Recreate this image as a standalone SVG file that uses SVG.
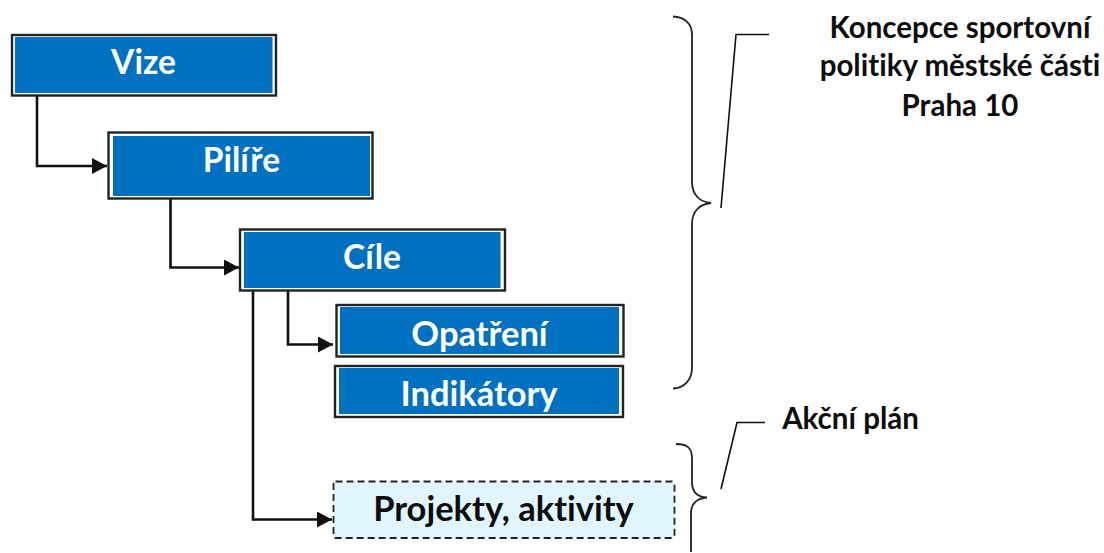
<svg xmlns="http://www.w3.org/2000/svg" width="1104" height="553" viewBox="0 0 1104 553">
<style>
.o{fill:#fff;stroke:#222;stroke-width:2.400}
.i{fill:#0070c0}
text{font-family:"Lato","Liberation Sans",sans-serif;font-weight:700;text-anchor:middle;font-variant-ligatures:none}
.w{fill:#fff;font-size:33.500px}
.w2{fill:#fff;font-size:34.500px}
.k{fill:#0d0d0d}
.c{fill:none;stroke:#111;stroke-width:2.600}
.b{fill:none;stroke:#222;stroke-width:1.800}
</style>
<defs><marker id="a" markerUnits="userSpaceOnUse" markerWidth="16" markerHeight="16" refX="15" refY="8" orient="auto"><path d="M0 0L15 8L0 16Z" fill="#111"/></marker></defs>
<rect width="1104" height="553" fill="#fff"/>
<g id="connectors">
<path class="c" marker-end="url(#a)" d="M37 96V166H107"/>
<path class="c" marker-end="url(#a)" d="M170.500 199V267.500H239"/>
<path class="c" marker-end="url(#a)" d="M288 291V344.500H333"/>
<path class="c" marker-end="url(#a)" d="M253 291V519.500H332"/>
</g>
<g id="vize"><rect class="o" x="12" y="35" width="264" height="60.500"/><rect class="i" x="15" y="37" width="257.500" height="56"/><text class="w" x="143.500" y="73.500">Vize</text></g>
<g id="pilire"><rect class="o" x="108.500" y="132.500" width="264" height="66"/><rect class="i" x="113" y="136" width="257" height="60"/><text class="w" x="241.500" y="172">Pilíře</text></g>
<g id="cile"><rect class="o" x="240" y="229.500" width="265" height="61"/><rect class="i" x="244" y="232" width="256.500" height="56"/><text class="w" x="372" y="269">Cíle</text></g>
<g id="opatreni"><rect class="o" x="336.500" y="305" width="287" height="51.500"/><rect class="i" x="340" y="307" width="279" height="47"/><text class="w2" x="479.500" y="345.500">Opatření</text></g>
<g id="indikatory"><rect class="o" x="335" y="366" width="288" height="51"/><rect class="i" x="339" y="368" width="280" height="46"/><text class="w2" x="479" y="406">Indikátory</text></g>
<g id="projekty"><rect x="333.500" y="481.500" width="341" height="56.500" rx="2" fill="#e1f5fe" stroke="#222" stroke-width="1.800" stroke-dasharray="7 4"/><text class="k" x="503.500" y="521" font-size="34.500">Projekty, aktivity</text></g>
<g id="koncepce">
<path class="b" d="M673 16.500C684 17 692 23 692 35V182C692 195 700 202 711 203C700 204 692 211 692 224V368C692 380 684 388 673 388.500"/>
<path class="c" style="stroke-width:1.600" d="M721 208L736 34.500H769"/>
<text class="k" font-size="29.500"><tspan x="960" y="38">Koncepce sportovní</tspan><tspan x="960" y="76">politiky městské části</tspan><tspan x="960" y="115.500">Praha 10</tspan></text>
</g>
<g id="akcni">
<path class="b" d="M676 444C686 444 692 447 692 458V482C692 492 698 497 707 497.500C698 498 691 503 691 513V552"/>
<path class="c" style="stroke-width:1.600" d="M721 489L737 422.500H765"/>
<text class="k" x="850.500" y="429" font-size="29.500">Akční plán</text>
</g>
</svg>
